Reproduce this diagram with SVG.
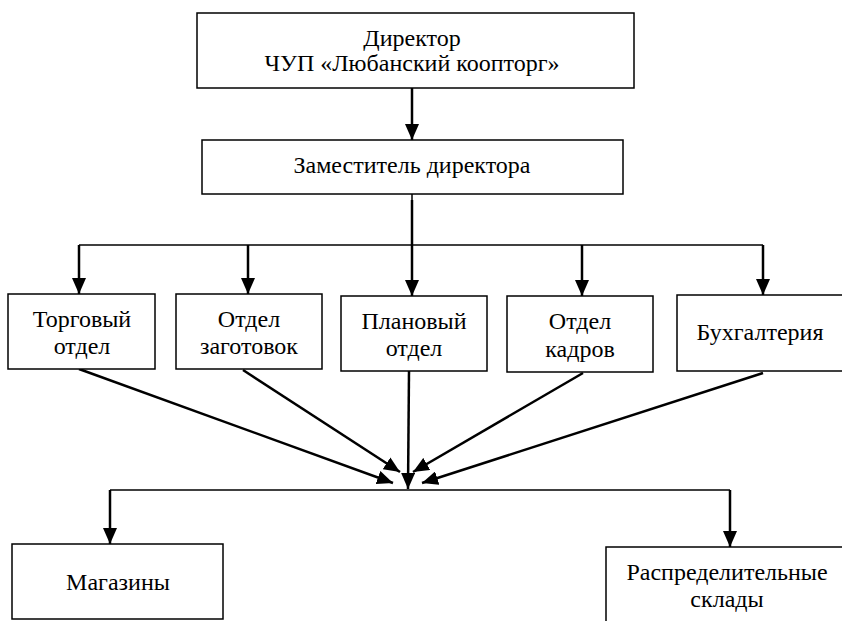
<svg xmlns="http://www.w3.org/2000/svg" width="842" height="621" viewBox="0 0 842 621">
<style>
.box{fill:#fff;stroke:#000;stroke-width:1.5}
.t{font-family:'Liberation Serif','Times New Roman',serif;font-size:24px;fill:#000;text-anchor:middle}
.arr{stroke:#000;stroke-width:2.5;fill:none;marker-end:url(#ah)}
.bus{stroke:#000;stroke-width:1.5;fill:none}
</style>
<defs>
<marker id="ah" viewBox="0 0 16 14" refX="16" refY="7" markerWidth="16" markerHeight="14" markerUnits="userSpaceOnUse" orient="auto">
<path d="M0,0 L16,7 L0,14 z" fill="#000"/>
</marker>
</defs>
<rect width="842" height="621" fill="#fff"/>
<g id="connectors">
<line class="arr" x1="412" y1="88" x2="412" y2="140"/>
<line class="bus" x1="412" y1="194" x2="412" y2="245"/>
<line class="bus" x1="79" y1="245" x2="763" y2="245"/>
<line class="arr" x1="79" y1="245" x2="79" y2="294"/>
<line class="arr" x1="248" y1="245" x2="248" y2="294"/>
<line class="arr" x1="412" y1="200" x2="412" y2="296"/>
<line class="arr" x1="582" y1="245" x2="582" y2="296"/>
<line class="arr" x1="763" y1="245" x2="763" y2="295"/>
<line class="arr" x1="79" y1="369" x2="393" y2="483"/>
<line class="arr" x1="243" y1="370" x2="400" y2="472"/>
<line class="arr" x1="409" y1="371" x2="408" y2="489"/>
<line class="arr" x1="583" y1="373" x2="413" y2="472"/>
<line class="arr" x1="763" y1="373" x2="422" y2="483"/>
<line class="bus" x1="110" y1="490" x2="730" y2="490"/>
<line class="arr" x1="110" y1="490" x2="110" y2="544"/>
<line class="arr" x1="730" y1="490" x2="730" y2="547"/>
</g>
<g id="director">
<rect class="box" x="197" y="13" width="437" height="75"/>
<text class="t" x="412" y="46">Директор</text>
<text class="t" x="412" y="71">ЧУП «Любанский коопторг»</text>
</g>
<g id="deputy">
<rect class="box" x="202" y="140" width="421" height="54"/>
<text class="t" x="412" y="173">Заместитель директора</text>
</g>
<g id="trade">
<rect class="box" x="8" y="294" width="147" height="75"/>
<text class="t" x="82" y="327">Торговый</text>
<text class="t" x="82" y="354">отдел</text>
</g>
<g id="procurement">
<rect class="box" x="176" y="294" width="146" height="75"/>
<text class="t" x="249" y="327">Отдел</text>
<text class="t" x="249" y="354">заготовок</text>
</g>
<g id="planning">
<rect class="box" x="341" y="296" width="146" height="75"/>
<text class="t" x="414" y="329">Плановый</text>
<text class="t" x="414" y="356">отдел</text>
</g>
<g id="hr">
<rect class="box" x="507" y="296" width="146" height="76"/>
<text class="t" x="580" y="329">Отдел</text>
<text class="t" x="580" y="357">кадров</text>
</g>
<g id="accounting">
<rect class="box" x="677" y="295" width="180" height="76"/>
<text class="t" x="760" y="340">Бухгалтерия</text>
</g>
<g id="shops">
<rect class="box" x="12" y="544" width="211" height="75"/>
<text class="t" x="118" y="590">Магазины</text>
</g>
<g id="warehouses">
<rect class="box" x="606" y="547" width="250" height="90"/>
<text class="t" x="727" y="580">Распределительные</text>
<text class="t" x="727" y="607">склады</text>
</g>
</svg>
